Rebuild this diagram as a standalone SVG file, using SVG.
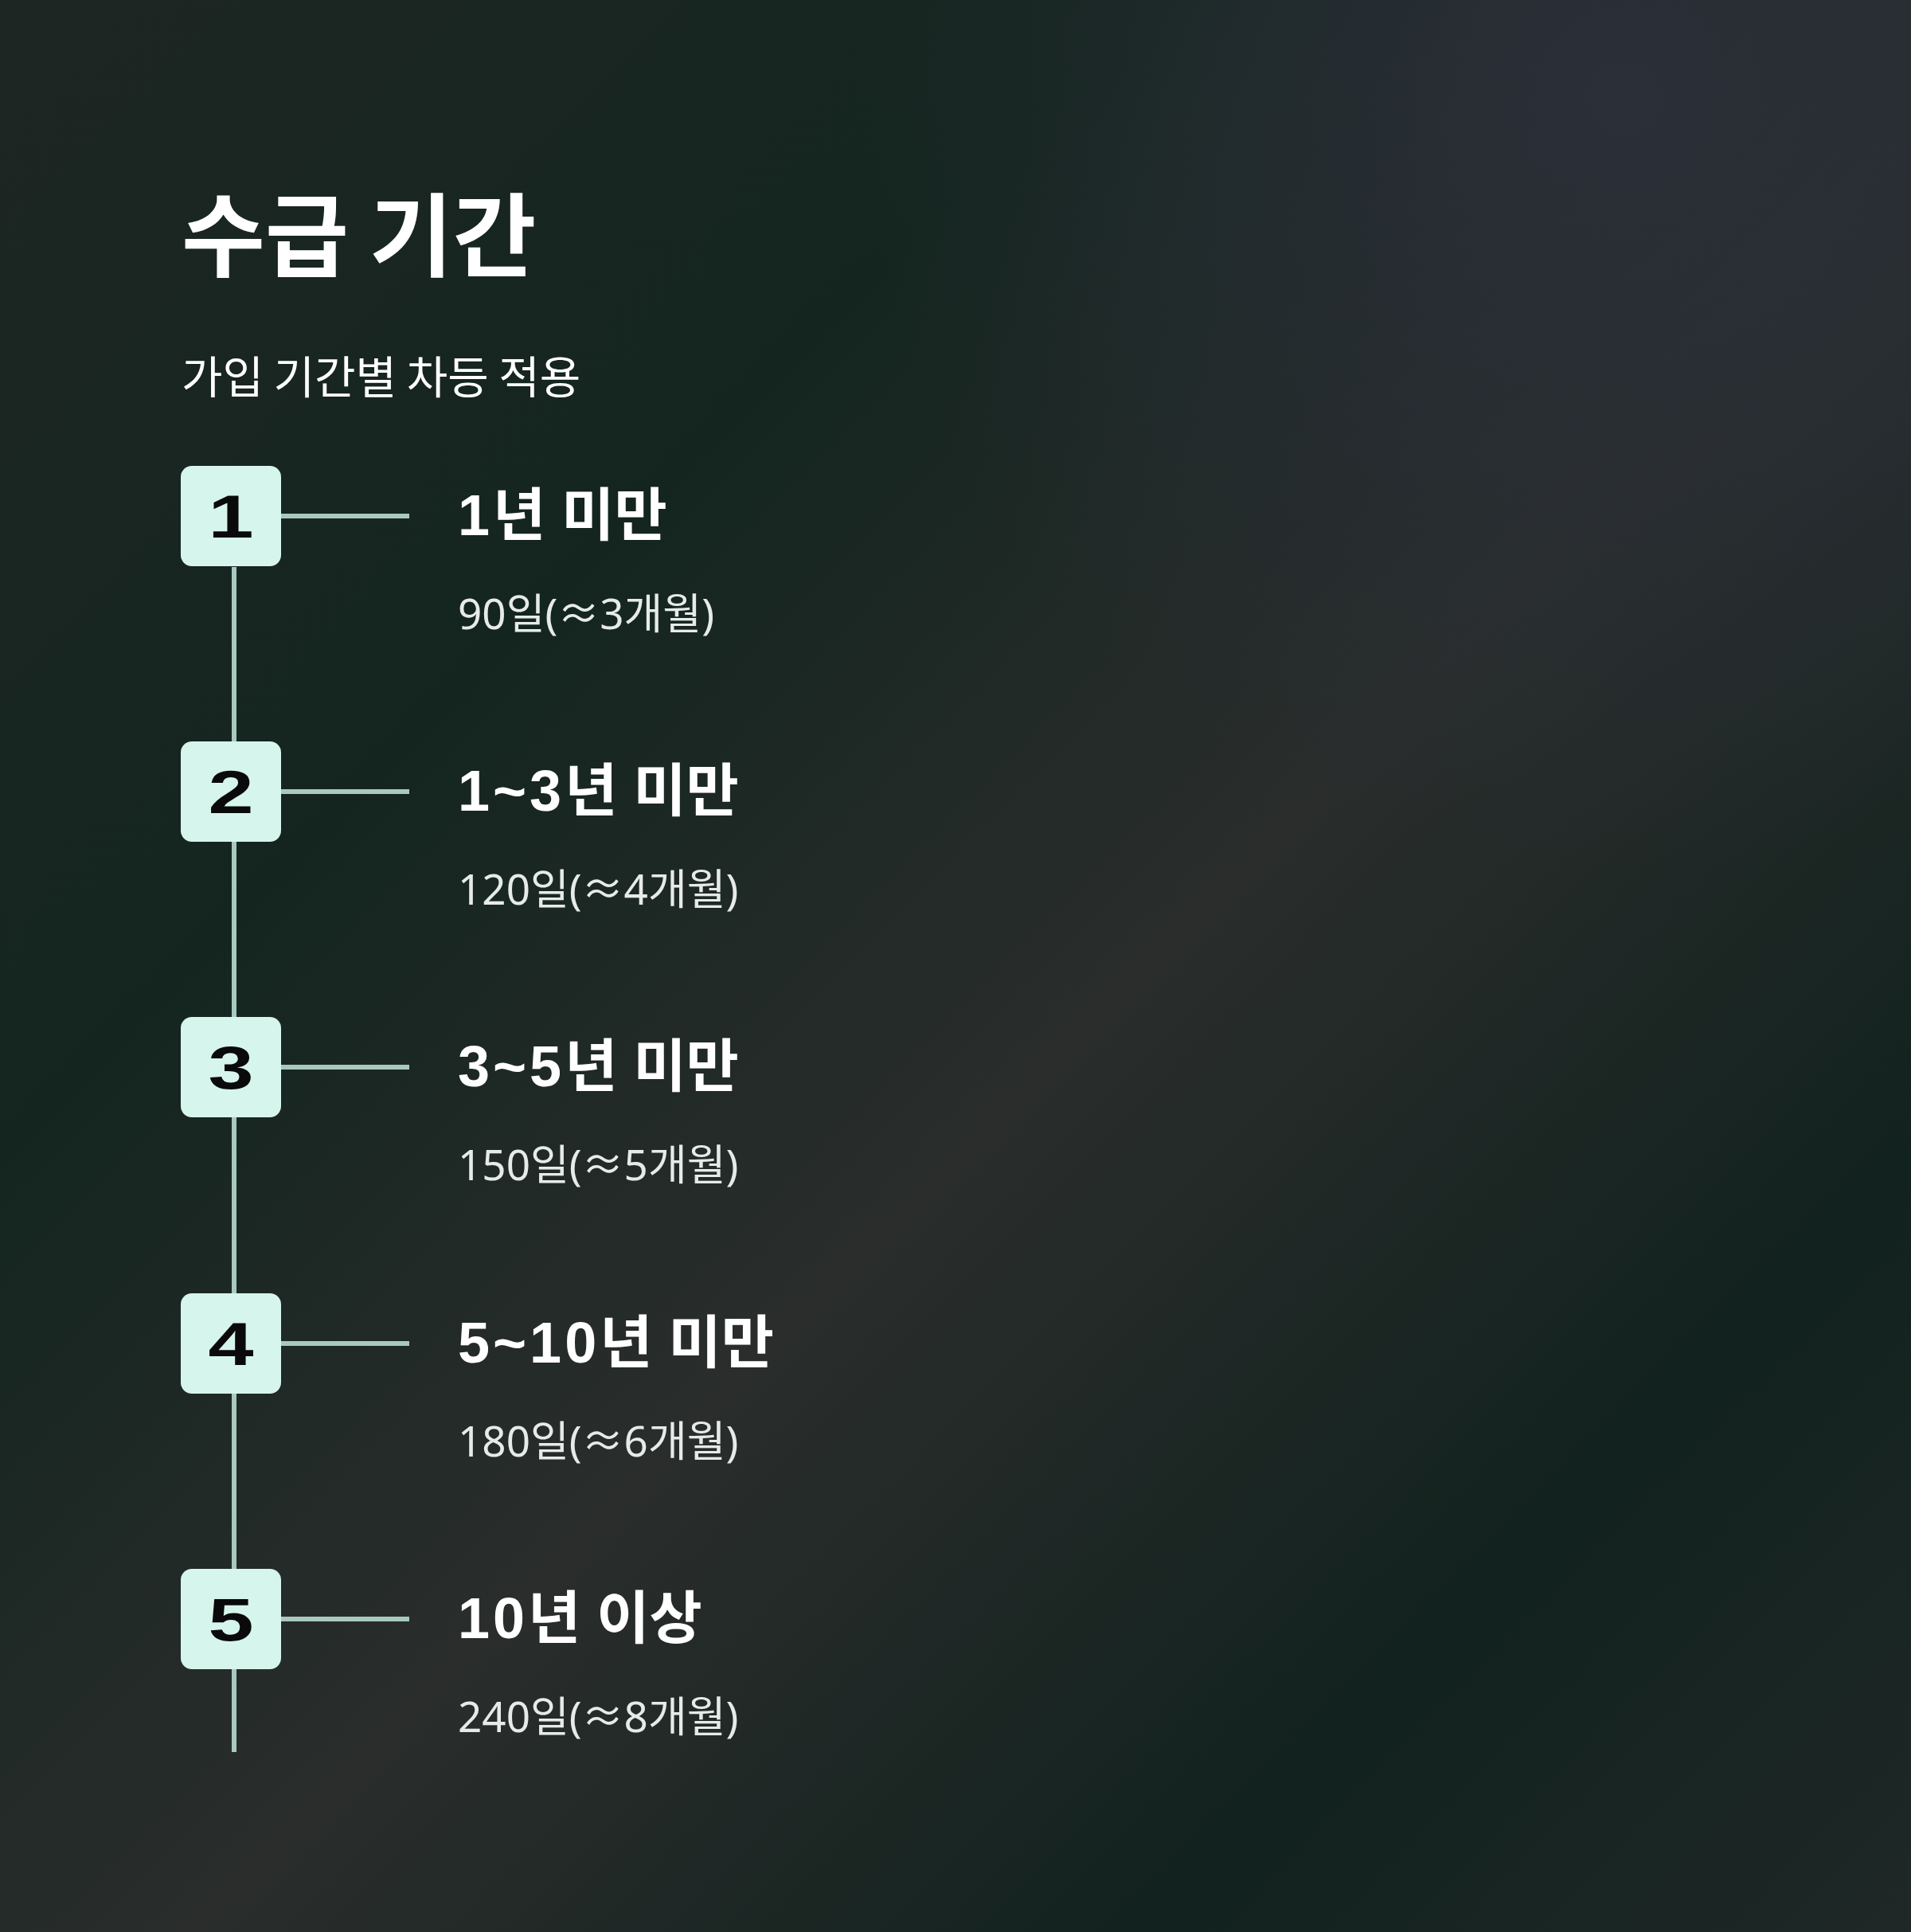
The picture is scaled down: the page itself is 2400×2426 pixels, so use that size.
<svg xmlns="http://www.w3.org/2000/svg" width="2400" height="2426" viewBox="0 0 2400 2426">
<defs>
<linearGradient id="bg" x1="0" y1="0" x2="1" y2="1">
<stop offset="0" stop-color="#1e2623"/>
<stop offset="0.3" stop-color="#14251f"/>
<stop offset="0.55" stop-color="#2a2d2c"/>
<stop offset="0.8" stop-color="#12221e"/>
<stop offset="1" stop-color="#1f2827"/>
</linearGradient>
<radialGradient id="glow" cx="0.85" cy="0.05" r="0.4">
<stop offset="0" stop-color="#2a2f38"/>
<stop offset="1" stop-color="#2a2f38" stop-opacity="0"/>
</radialGradient>
<style>
.box{fill:#d6f5ec}
.num{font-family:"Liberation Sans",sans-serif;font-weight:900;font-size:76px;fill:#0a0a0a;text-anchor:middle}
.h{font-family:"Liberation Sans","Noto Sans CJK KR",sans-serif;font-weight:bold;font-size:72px;fill:#ffffff}
.d{letter-spacing:4px}
.s{font-family:"Noto Sans","Noto Sans CJK KR",sans-serif;font-size:53px;fill:#e6ebe9}
.ln{stroke:#a9c9c0;stroke-width:6;fill:none}
</style>
</defs>
<rect width="2400" height="2426" fill="url(#bg)"/>
<rect width="2400" height="2426" fill="url(#glow)"/>
<text x="228" y="338" font-family="'Noto Sans CJK KR',sans-serif" font-weight="bold" font-size="114" fill="#ffffff">수급 기간</text>
<text x="228" y="494" font-family="'Noto Sans CJK KR',sans-serif" font-size="56" fill="#ffffff">가입 기간별 차등 적용</text>
<g id="connectors">
<line class="ln" x1="294" y1="712" x2="294" y2="2200"/>
<line class="ln" x1="353" y1="648" x2="514" y2="648"/>
<line class="ln" x1="353" y1="994" x2="514" y2="994"/>
<line class="ln" x1="353" y1="1340" x2="514" y2="1340"/>
<line class="ln" x1="353" y1="1687" x2="514" y2="1687"/>
<line class="ln" x1="353" y1="2033" x2="514" y2="2033"/>
</g>
<g id="n1"><rect class="box" x="227" y="585" width="126" height="126" rx="14"/><text class="num" transform="translate(290 675) scale(1.35 1)">1</text>
<text class="h" x="575" y="672"><tspan class="d">1</tspan>년 미만</text><text class="s" x="575" y="790">90일(≈3개월)</text></g>
<g id="n2"><rect class="box" x="227" y="931" width="126" height="126" rx="14"/><text class="num" transform="translate(290 1021) scale(1.35 1)">2</text>
<text class="h" x="575" y="1018"><tspan class="d">1~3</tspan>년 미만</text><text class="s" x="575" y="1136">120일(≈4개월)</text></g>
<g id="n3"><rect class="box" x="227" y="1277" width="126" height="126" rx="14"/><text class="num" transform="translate(290 1367) scale(1.35 1)">3</text>
<text class="h" x="575" y="1364"><tspan class="d">3~5</tspan>년 미만</text><text class="s" x="575" y="1482">150일(≈5개월)</text></g>
<g id="n4"><rect class="box" x="227" y="1624" width="126" height="126" rx="14"/><text class="num" transform="translate(290 1714) scale(1.35 1)">4</text>
<text class="h" x="575" y="1711"><tspan class="d">5~10</tspan>년 미만</text><text class="s" x="575" y="1829">180일(≈6개월)</text></g>
<g id="n5"><rect class="box" x="227" y="1970" width="126" height="126" rx="14"/><text class="num" transform="translate(290 2060) scale(1.35 1)">5</text>
<text class="h" x="575" y="2057"><tspan class="d">10</tspan>년 이상</text><text class="s" x="575" y="2175">240일(≈8개월)</text></g>
</svg>
